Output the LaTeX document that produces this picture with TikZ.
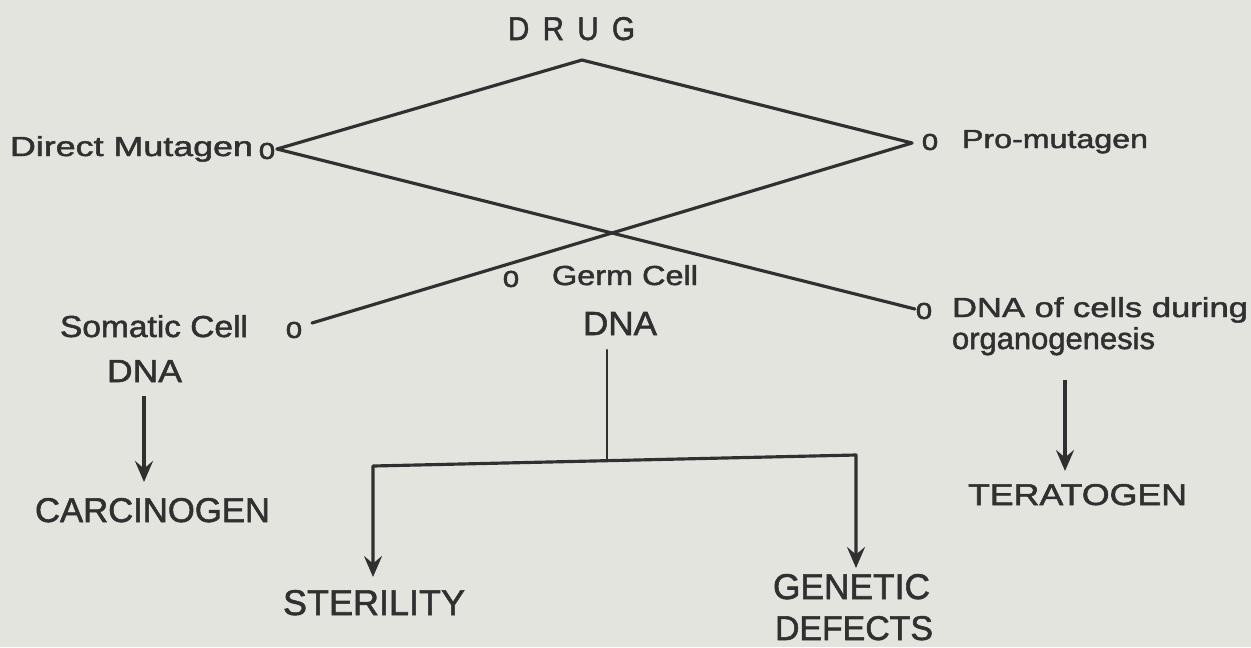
\documentclass[tikz,border=0pt]{standalone}
\usepackage{fontspec}
\setmainfont{Liberation Sans}[FakeBold=1.6]
\usepackage{graphicx}
\usetikzlibrary{arrows.meta}
\definecolor{paper}{RGB}{228,228,223}
\definecolor{ink}{RGB}{48,48,48}
\newdimen\pxu \pxu=0.02cm
\newcommand\fitbox[3]{\resizebox{#1\pxu}{#2\pxu}{#3}}
\begin{document}
\begin{tikzpicture}[x=0.02cm,y=-0.02cm,
  lab/.style={inner sep=0pt, outer sep=0pt, anchor=base west, text=ink},
  circ/.style={inner sep=0pt, outer sep=0pt, anchor=center, text=ink, font=\fontsize{17}{17}\selectfont},
  wire/.style={draw=ink, line width=1.8pt, line cap=round, line join=round},
  thinwire/.style={draw=ink, line width=1.2pt, line cap=round},
  arr/.style={draw=ink, line width=1.8pt, -{Stealth[length=0.42cm,width=0.36cm,inset=0.15cm]}},
  arrs/.style={draw=ink, line width=1.8pt, line join=round, {Stealth[length=0.42cm,width=0.36cm,inset=0.15cm]}-{Stealth[length=0.42cm,width=0.36cm,inset=0.15cm]}}]
\fill[paper] (0,0) rectangle (1251,647);
\useasboundingbox (0,0) rectangle (1251,647);

% labels
\node[lab] (drug) at (508,40) {\fitbox{127}{23}{D\hspace{0.45em}R\hspace{0.45em}U\hspace{0.45em}G}};
\node[lab] (dm) at (10,156) {\fitbox{243}{20}{Direct Mutagen}};
\node[circ] (odm) at (267,151) {o};
\node[circ] (opm) at (930,142) {o};
\node[lab] (pm) at (962,148) {\fitbox{186}{18}{Pro-mutagen}};
\node[lab] (sc) at (60,337) {\fitbox{188}{22}{Somatic Cell}};
\node[circ] (osc) at (294,330) {o};
\node[lab] (scdna) at (107,382) {\fitbox{75}{22}{DNA}};
\node[lab] (carc) at (35,522) {\fitbox{235}{24}{CARCINOGEN}};
\node[circ] (ogc) at (511,279) {o};
\node[lab] (gc) at (552,285) {\fitbox{146}{20}{Germ Cell}};
\node[lab] (gcdna) at (583,335) {\fitbox{74}{23}{DNA}};
\node[circ] (odc) at (924,311) {o};
\node[lab] (dc) at (952,317) {\fitbox{296}{20}{DNA of cells during}};
\node[lab] (org) at (952,349) {\fitbox{203}{22}{organogenesis}};
\node[lab] (terat) at (968,505) {\fitbox{219}{21}{TERATOGEN}};
\node[lab] (steril) at (283,615) {\fitbox{182}{25}{STERILITY}};
\node[lab] (gen) at (773,599) {\fitbox{157}{25}{GENETIC}};
\node[lab] (def) at (775,640) {\fitbox{158}{24}{DEFECTS}};

% connection points
\coordinate (apex) at (582,60);
\coordinate (lv) at (277,149);
\coordinate (rv) at (912,143);
\coordinate (endsc) at (312,323);
\coordinate (enddc) at (915,309);
\coordinate (g0) at (607,350);
\coordinate (g1) at (607,460);
\coordinate (bl) at (373,466);
\coordinate (br) at (856,455);
\coordinate (stip) at (373,577);
\coordinate (gtip) at (856,568);
\coordinate (t0) at (1065,380);
\coordinate (t1) at (1065,471);
\coordinate (c0) at (144,396);
\coordinate (c1) at (144,482);

% connectors
\draw[wire] (lv) -- (apex) -- (rv);
\draw[wire] (lv) -- (enddc);
\draw[wire] (rv) -- (endsc);
\draw[thinwire] (g0) -- (g1);
\draw[arrs] (stip) -- (bl) -- (br) -- (gtip);
\draw[arr] (c0) -- (c1);
\draw[arr] (t0) -- (t1);
\end{tikzpicture}
\end{document}
